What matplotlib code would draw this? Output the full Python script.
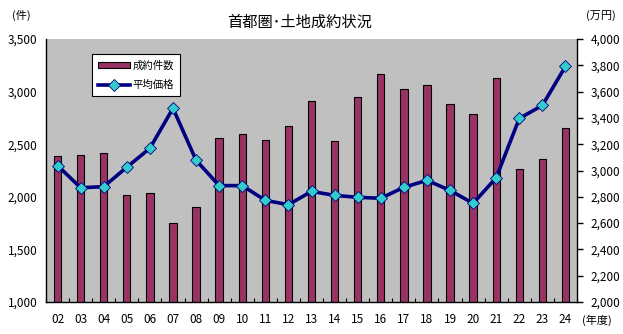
import matplotlib
matplotlib.use("Agg")
import matplotlib.pyplot as plt
import numpy as np
from matplotlib.ticker import FuncFormatter

plt.rcParams['font.family'] = ['Noto Sans CJK JP', 'DejaVu Sans']

years = ['02', '03', '04', '05', '06', '07', '08', '09', '10', '11', '12', '13',
         '14', '15', '16', '17', '18', '19', '20', '21', '22', '23', '24']
deals = [2388, 2397, 2413, 2014, 2033, 1748, 1900, 2559, 2594, 2540, 2673, 2911,
         2528, 2946, 3164, 3022, 3060, 2879, 2784, 3126, 2261, 2356, 2654]
price = [3038, 2869, 2877, 3025, 3169, 3473, 3078, 2885, 2885, 2773, 2740, 2841,
         2811, 2796, 2789, 2872, 2925, 2849, 2750, 2945, 3396, 3495, 3792]

def main():
    fig = plt.figure(figsize=(6.23, 3.34), dpi=100)
    ax = fig.add_axes([46/623, 32/334, 531/623, 263/334])
    ax.set_facecolor('#C0C0C0')
    x = np.arange(len(years))
    bars = ax.bar(x, deals, width=0.32, color='#993366', edgecolor='black', linewidth=0.8,
                  bottom=0, label='成約件数', zorder=2)
    ax.set_xlim(-0.5, len(years) - 0.5)
    ax.set_ylim(1000, 3500)
    ax.set_yticks(np.arange(1000, 3501, 500))
    ax.yaxis.set_major_formatter(FuncFormatter(lambda v, p: f'{int(v):,}'))
    ax.set_xticks(x)
    ax.set_xticklabels(years)
    ax.set_xticks(np.arange(-0.5, len(years), 1), minor=True)
    ax.tick_params(axis='x', which='major', length=0, labelsize=8.5, pad=8)
    ax.tick_params(axis='x', which='minor', direction='in', length=3, width=0.8)
    ax.tick_params(axis='y', length=0, labelsize=8.5, pad=6)
    for s in ['top', 'right']:
        ax.spines[s].set_visible(False)
    ax.spines['left'].set_linewidth(1.0)
    ax.spines['bottom'].set_linewidth(1.0)

    ax2 = ax.twinx()
    line, = ax2.plot(x, price, color='#000080', linewidth=2.6, marker='D', markersize=6,
                     markerfacecolor='#33CCCC', markeredgecolor='#000080',
                     markeredgewidth=0.6, label='平均価格', zorder=3)
    ax2.set_ylim(2000, 4000)
    ax2.set_yticks(np.arange(2000, 4001, 200))
    ax2.yaxis.set_major_formatter(FuncFormatter(lambda v, p: f'{int(v):,}'))
    ax2.tick_params(axis='y', direction='out', length=4, width=1.0, labelsize=8.5, pad=6)
    for s in ['top', 'left', 'bottom']:
        ax2.spines[s].set_visible(False)
    ax2.spines['right'].set_linewidth(1.0)
    ax2.spines['right'].set_color('black')

    leg = ax2.legend([bars, line], ['成約件数', '平均価格'], loc='upper left',
                     bbox_to_anchor=(92/623, 1 - 54/334), bbox_transform=fig.transFigure,
                     borderaxespad=0, fancybox=False, framealpha=1, edgecolor='black',
                     fontsize=7.5, handlelength=3.0, handleheight=0.5, borderpad=0.6,
                     labelspacing=0.9, handletextpad=0.3)
    leg.get_frame().set_linewidth(0.8)
    leg.set_zorder(5)

    fig.text(300/623, 1 - 22/334, '首都圏･土地成約状況', ha='center', va='center', fontsize=11)
    fig.text(21/623, 1 - 15/334, '(件)', ha='center', va='center', fontsize=8)
    fig.text(601/623, 1 - 16/334, '(万円)', ha='center', va='center', fontsize=8)
    fig.text(597/623, 1 - 320/334, '(年度)', ha='center', va='center', fontsize=8)

    fig.savefig('out.png', dpi=100)

if __name__ == "__main__":
    main()
